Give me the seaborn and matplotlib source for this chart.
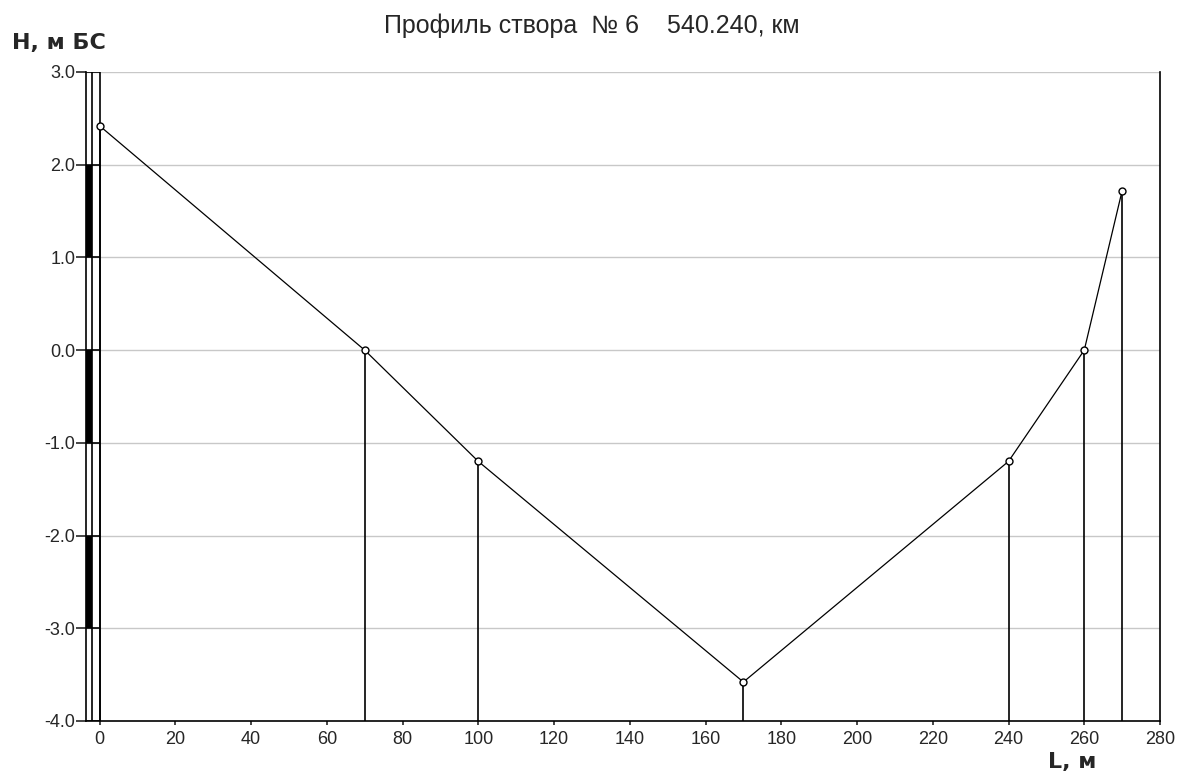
import matplotlib
matplotlib.use("Agg")
import matplotlib.pyplot as plt
import seaborn as sns
import pandas as pd
from matplotlib.ticker import FormatStrFormatter

# profile points (distance along section, elevation)
dist_m = [0, 70, 100, 170, 240, 260, 270]
height_m = [2.42, 0.0, -1.2, -3.58, -1.2, 0.0, 1.72]

x_ticks = [0, 20, 40, 60, 80, 100, 120, 140, 160, 180, 200, 220, 240, 260, 280]
y_ticks = [-4.0, -3.0, -2.0, -1.0, 0.0, 1.0, 2.0, 3.0]
# black segments of the height scale bar (bottom of each 1 m block)
scale_black = [1.0, -1.0, -3.0]

title_text = "Профиль створа  № 6    540.240, км"

sns.set_style("white")
plt.rcParams['font.family'] = ['Liberation Sans', 'DejaVu Sans']
plt.rcParams['axes.unicode_minus'] = False

df = pd.DataFrame({"L": dist_m, "H": height_m})

fig = plt.figure(figsize=(11.82, 7.79), dpi=100)
ax = fig.add_axes([0.0730, 0.0745, 0.9084, 0.8331])

x_left, x_bar = -3.5, -2.1
ax.set_xlim(x_left, 280)
ax.set_ylim(-4.0, 3.0)

# grid
for y in y_ticks[1:]:
    ax.axhline(y, color="#c8c8c8", lw=1.0, zorder=0)

# vertical lines from points to bottom
ax.vlines(df["L"], -4.0, df["H"], color="black", lw=1.2, zorder=2)
ax.axvline(dist_m[0], color="black", lw=1.2, zorder=2)
ax.axvline(x_bar, color="black", lw=1.2, zorder=2)

# height scale bar
ax.bar([x_left] * len(scale_black), [1.0] * len(scale_black), width=x_bar - x_left,
       bottom=scale_black, align="edge", color="black", lw=0, zorder=2)
ax.hlines(y_ticks, x_left, dist_m[0], color="black", lw=1.2, zorder=3)

sns.lineplot(data=df, x="L", y="H", ax=ax, color="black", lw=0.9, sort=False,
             marker="o", markersize=5, markerfacecolor="white",
             markeredgecolor="black", markeredgewidth=1.0, zorder=4)

ax.set_xticks(x_ticks)
ax.set_yticks(y_ticks)
ax.yaxis.set_major_formatter(FormatStrFormatter("%.1f"))
ax.tick_params(axis="y", direction="out", length=7, width=1.2, labelsize=13, pad=1, left=True)
ax.tick_params(axis="x", direction="out", length=3, width=1.2, labelsize=13, pad=4, bottom=True)
ax.set_xlabel("")
ax.set_ylabel("")

for side in ["left", "bottom", "right"]:
    ax.spines[side].set_color("black")
    ax.spines[side].set_linewidth(1.2)
ax.spines["top"].set_visible(False)

fig.text(0.501, 0.9576, title_text, ha="center", va="baseline", fontsize=18)
fig.text(0.010, 0.945, "Н, м БС", ha="left", va="center", fontsize=16,
         fontweight="bold", family="DejaVu Sans")
fig.text(0.907, 0.022, "L, м", ha="center", va="center", fontsize=16,
         fontweight="bold", family="DejaVu Sans")

fig.savefig("out.png", dpi=100)
